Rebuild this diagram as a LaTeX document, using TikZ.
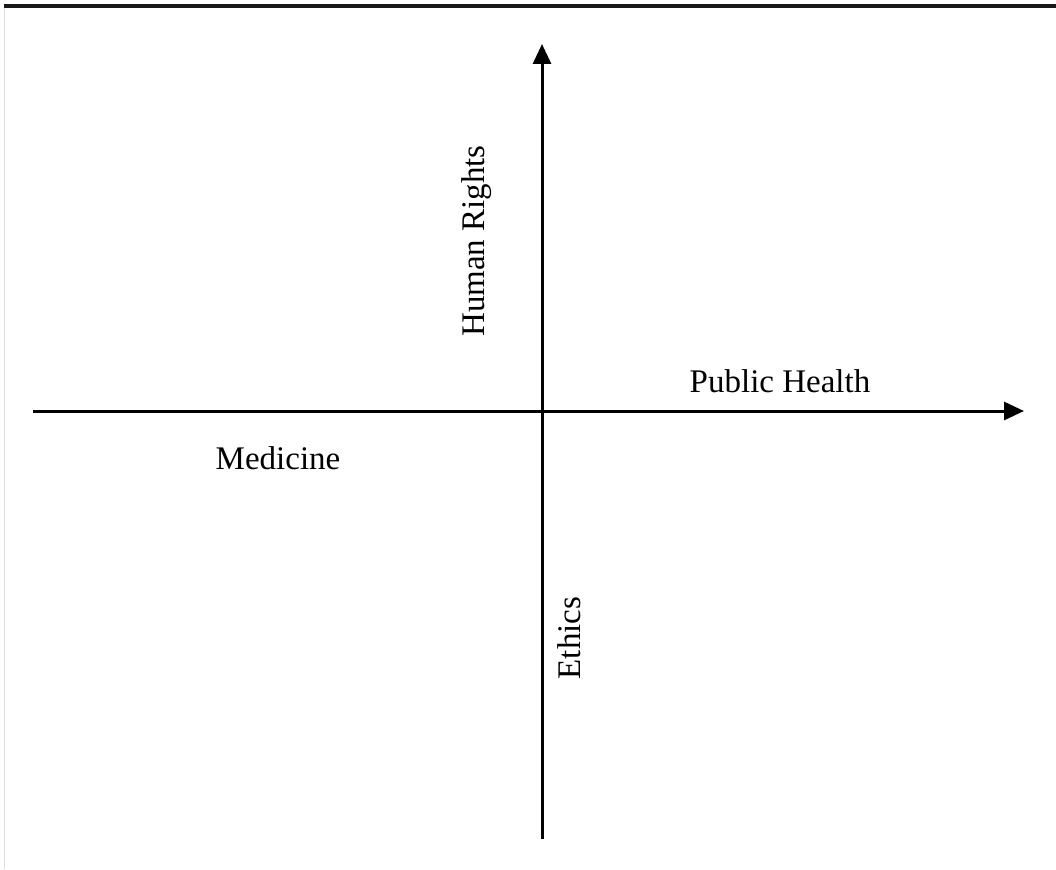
\documentclass[tikz,border=0pt]{standalone}
\usepackage{fontspec}
\setmainfont{Liberation Serif}
\usetikzlibrary{arrows.meta}
\begin{document}
\begin{tikzpicture}[x=1pt,y=-1pt,
  axis/.style={line width=3pt,-{Triangle[length=20pt,width=18pt]}},
  lbl/.style={font=\fontsize{33}{36}\selectfont,inner sep=0pt,anchor=center}]
\useasboundingbox (0,0) rectangle (1056,869);
\fill[white] (0,0) rectangle (1056,869);
\draw[line width=3.5pt,black!90] (4,6) -- (1056,6);
\draw[line width=1.2pt,black!13] (4.5,8) -- (4.5,869);
\coordinate (vb) at (542,839);
\coordinate (vt) at (542,44);
\coordinate (hl) at (33,411);
\coordinate (hr) at (1024,411);
\draw[axis] (vb) -- (vt);
\draw[axis] (hl) -- (hr);
\node[lbl] (ph) at (780,381) {Public Health};
\node[lbl] (med) at (278,458) {Medicine};
\node[lbl,rotate=90] (hr2) at (477,241) {Human Rights};
\node[lbl,rotate=90] (eth) at (569,638) {Ethics};
\end{tikzpicture}
\end{document}
